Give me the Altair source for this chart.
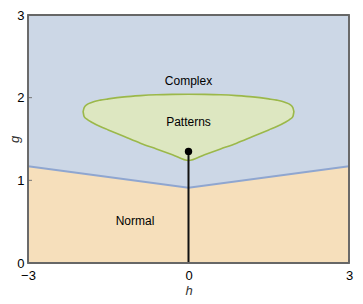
import altair as alt
import pandas as pd

# boundary between Normal and Complex
boundary_h = [-3, 0, 3]
boundary_g = [1.17, 0.91, 1.17]

# Patterns region (lower and upper edges)
pat_h = [-1.97, -1.95, -1.9, -1.8, -1.65, -1.5, -1.2, -0.9, -0.6, -0.3, 0.0,
         0.3, 0.6, 0.9, 1.2, 1.5, 1.65, 1.8, 1.9, 1.95, 1.97]
pat_lo = [1.83, 1.77, 1.74, 1.70, 1.65, 1.61, 1.53, 1.45, 1.38, 1.31, 1.24,
          1.31, 1.38, 1.45, 1.53, 1.61, 1.65, 1.70, 1.74, 1.77, 1.83]
pat_hi = [1.83, 1.88, 1.915, 1.945, 1.97, 1.985, 2.01, 2.025, 2.035, 2.04, 2.042,
          2.04, 2.035, 2.025, 2.01, 1.985, 1.97, 1.945, 1.915, 1.88, 1.83]

# stem with dot
stem_h = [0]
stem_g = [1.35]

# region labels
label_text = ["Complex", "Patterns", "Normal"]
label_h = [0.0, 0.0, -1.0]
label_g = [2.2, 1.71, 0.51]

x_ticks = [-3, 0, 3]
y_ticks = [0, 1, 2, 3]

W, H = 321, 248
FONT = "Liberation Sans"

xs = alt.Scale(domain=[-3, 3], nice=False, zero=False)
ys = alt.Scale(domain=[0, 3], nice=False, zero=False)

bdf = pd.DataFrame({"h": boundary_h, "g": boundary_g,
                    "lo": [0] * len(boundary_h), "hi": [3] * len(boundary_h)})
pdf = pd.DataFrame({"h": pat_h, "lo": pat_lo, "hi": pat_hi})
sdf = pd.DataFrame({"h": stem_h, "g": stem_g, "z": [0] * len(stem_h)})
ldf = pd.DataFrame({"t": label_text, "h": label_h, "g": label_g})
xt = pd.DataFrame({"v": x_ticks})
yt = pd.DataFrame({"v": y_ticks})

xaxis = alt.Axis(values=x_ticks, ticks=False, domain=False, grid=False,
                 labelFlush=False, labelFont=FONT, labelFontSize=13,
                 labelColor="#000", labelPadding=6, title="h",
                 titleFont=FONT, titleFontSize=13, titleFontStyle="italic",
                 titleFontWeight="normal", titleColor="#333", titlePadding=2,
                 labelExpr="datum.value < 0 ? '\u2212' + abs(datum.value) : format(datum.value, 'd')")
yaxis = alt.Axis(values=y_ticks, ticks=False, domain=False, grid=False,
                 labelFlush=False, labelFont=FONT, labelFontSize=13,
                 labelColor="#000", labelPadding=4, title="g", format="d",
                 titleFont=FONT, titleFontSize=13, titleFontStyle="italic",
                 titleFontWeight="normal", titleColor="#333", titleX=-7)

normal = alt.Chart(bdf).mark_area(color="#f6dfbb", opacity=1).encode(
    x=alt.X("h:Q", scale=xs, axis=xaxis),
    y=alt.Y("g:Q", scale=ys, axis=yaxis),
    y2="lo:Q",
)
complex_ = alt.Chart(bdf).mark_area(color="#ccd7e6", opacity=1).encode(
    x=alt.X("h:Q", scale=xs), y=alt.Y("g:Q", scale=ys), y2="hi:Q"
)
bline = alt.Chart(bdf).mark_line(color="#8fa6d0", strokeWidth=2).encode(
    x=alt.X("h:Q", scale=xs), y=alt.Y("g:Q", scale=ys)
)
patterns = alt.Chart(pdf).mark_area(
    fill="#dde7c1", stroke="#9bb84a", strokeWidth=1.6, opacity=1,
    interpolate="monotone"
).encode(
    x=alt.X("h:Q", scale=xs), y=alt.Y("lo:Q", scale=ys), y2="hi:Q"
)
stem = alt.Chart(sdf).mark_rule(color="#111", strokeWidth=2).encode(
    x=alt.X("h:Q", scale=xs), y=alt.Y("g:Q", scale=ys), y2="z:Q"
)
dot = alt.Chart(sdf).mark_point(filled=True, color="#000", size=55, opacity=1).encode(
    x=alt.X("h:Q", scale=xs), y=alt.Y("g:Q", scale=ys)
)
labels = alt.Chart(ldf).mark_text(font=FONT, fontSize=12, color="#000").encode(
    x=alt.X("h:Q", scale=xs), y=alt.Y("g:Q", scale=ys), text="t:N"
)
yticks = alt.Chart(yt).mark_rule(color="#777", strokeWidth=1).encode(
    y=alt.Y("v:Q", scale=ys), x=alt.value(0), x2=alt.value(4)
)
xticks = alt.Chart(xt).mark_rule(color="#777", strokeWidth=1).encode(
    x=alt.X("v:Q", scale=xs), y=alt.value(H), y2=alt.value(H - 4)
)
frame = alt.Chart(xt).mark_rect(fill=None, stroke="#666", strokeWidth=1.3).encode(
    x=alt.value(0), x2=alt.value(W), y=alt.value(0), y2=alt.value(H)
)

chart = alt.layer(
    normal, complex_, bline, patterns, xticks, yticks, stem, dot, labels, frame
).properties(
    width=W, height=H,
    autosize=alt.AutoSizeParams(type="none"),
    padding={"left": 20, "top": 7, "right": 5, "bottom": 33},
).configure_view(
    stroke=None
).configure(background="white")

chart.save("out.html", embed_options={"renderer": "svg", "actions": False})
